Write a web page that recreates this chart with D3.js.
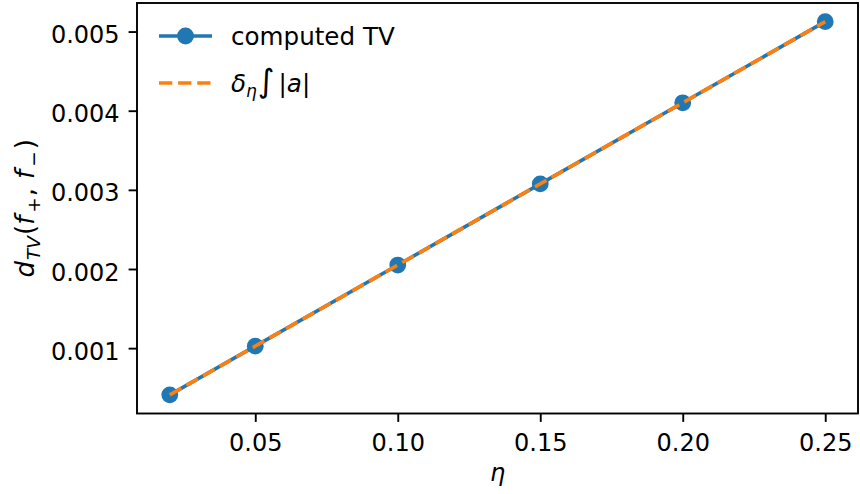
<!DOCTYPE html>
<html>
<head>
<meta charset="utf-8">
<script src="https://cdn.jsdelivr.net/npm/d3@7"></script>
<style>
  html, body { margin: 0; padding: 0; background: #fff; }
  svg { display: block; }
  text { font-family: "DejaVu Sans", sans-serif; fill: #000; }
</style>
</head>
<body>
<svg id="chart" width="860" height="494"></svg>
<script>
const etaValues = [0.02, 0.05, 0.10, 0.15, 0.20, 0.25];
const computedTV = [0.00041, 0.001025, 0.00205, 0.003075, 0.0041, 0.005125];
const boundValues = [0.00041, 0.001025, 0.00205, 0.003075, 0.0041, 0.005125];
const xTicks = [0.05, 0.10, 0.15, 0.20, 0.25];
const yTicks = [0.001, 0.002, 0.003, 0.004, 0.005];

const W = 860, H = 494;
const margin = { left: 137, right: 2, top: 3, bottom: 80.5 };
const svg = d3.select("#chart");

function padded(arr) {
  const [lo, hi] = d3.extent(arr);
  const p = (hi - lo) * 0.05;
  return [lo - p, hi + p];
}

const x = d3.scaleLinear().domain(padded(etaValues)).range([margin.left, W - margin.right]);
const y = d3.scaleLinear().domain(padded(computedTV.concat(boundValues))).range([H - margin.bottom, margin.top]);

const blue = "#1f77b4", orange = "#ff7f0e";
const lw = 3.6, mr = 8.4;

// Lines
const data1 = etaValues.map((e, i) => [e, computedTV[i]]);
const data2 = etaValues.map((e, i) => [e, boundValues[i]]);
const line = d3.line().x(d => x(d[0])).y(d => y(d[1]));

const plot = svg.append("g");
plot.append("path").datum(data1).attr("d", line)
  .attr("fill", "none").attr("stroke", blue).attr("stroke-width", lw);
plot.selectAll("circle.pt").data(data1).enter().append("circle")
  .attr("class", "pt").attr("cx", d => x(d[0])).attr("cy", d => y(d[1]))
  .attr("r", mr).attr("fill", blue);
plot.append("path").datum(data2).attr("d", line)
  .attr("fill", "none").attr("stroke", orange).attr("stroke-width", lw)
  .attr("stroke-dasharray", "13.3,5.8");

// Axes
const xAxis = d3.axisBottom(x).tickValues(xTicks).tickFormat(d3.format(".2f")).tickSize(8.4).tickPadding(9);
const yAxis = d3.axisLeft(y).tickValues(yTicks).tickFormat(d3.format(".3f")).tickSize(8.4).tickPadding(9);

const gx = svg.append("g").attr("transform", `translate(0,${H - margin.bottom})`).call(xAxis);
const gy = svg.append("g").attr("transform", `translate(${margin.left},0)`).call(yAxis);
[gx, gy].forEach(g => {
  g.select(".domain").remove();
  g.selectAll(".tick line").attr("stroke", "#000").attr("stroke-width", 1.9);
  g.selectAll(".tick text").style("font-family", "DejaVu Sans").style("font-size", "24px").attr("fill", "#000");
});
gx.selectAll(".tick text").attr("dy", "0.83em");
gy.selectAll(".tick text").attr("dy", "0.46em");

// Frame
svg.append("rect")
  .attr("x", margin.left).attr("y", margin.top)
  .attr("width", W - margin.right - margin.left)
  .attr("height", H - margin.bottom - margin.top)
  .attr("fill", "none").attr("stroke", "#000").attr("stroke-width", 1.9);

// X label
svg.append("text").attr("x", (margin.left + W - margin.right) / 2).attr("y", 481)
  .attr("text-anchor", "middle").style("font-size", "24px").style("font-style", "italic").text("η");

// Y label
const yl = svg.append("text")
  .attr("transform", `translate(34,${(margin.top + H - margin.bottom) / 2}) rotate(-90)`)
  .attr("text-anchor", "middle").style("font-size", "26px");
yl.append("tspan").style("font-style", "italic").text("d");
yl.append("tspan").style("font-style", "italic").style("font-size", "18.5px").attr("dy", 6).attr("dx", 1).text("TV");
yl.append("tspan").attr("dy", -6).attr("dx", 1).text("(");
yl.append("tspan").style("font-style", "italic").text("f");
yl.append("tspan").style("font-size", "18.5px").attr("dy", 6).attr("dx", 3).text("+");
yl.append("tspan").attr("dy", -6).attr("dx", 1).text(",");
yl.append("tspan").style("font-style", "italic").attr("dx", 9).text("f");
yl.append("tspan").style("font-size", "18.5px").attr("dy", 6).attr("dx", 3).text("\u2212");
yl.append("tspan").attr("dy", -6).attr("dx", 2).text(")");

// Legend
const lg = svg.append("g");
const lx0 = 159, lx1 = 212, ly1 = 36, ly2 = 83;
lg.append("line").attr("x1", lx0).attr("x2", lx1).attr("y1", ly1).attr("y2", ly1)
  .attr("stroke", blue).attr("stroke-width", lw);
lg.append("circle").attr("cx", (lx0 + lx1) / 2).attr("cy", ly1).attr("r", mr).attr("fill", blue);
lg.append("text").attr("x", 231).attr("y", ly1 + 9).style("font-size", "24.6px").text("computed TV");
lg.append("line").attr("x1", lx0).attr("x2", lx1).attr("y1", ly2).attr("y2", ly2)
  .attr("stroke", orange).attr("stroke-width", lw).attr("stroke-dasharray", "13.3,5.8");
const t2 = lg.append("text").attr("x", 231).attr("y", ly2 + 8.5).style("font-size", "24.6px");
t2.append("tspan").style("font-style", "italic").text("δ");
t2.append("tspan").style("font-style", "italic").style("font-size", "17px").attr("dy", 5).text("η");
t2.append("tspan").attr("dy", -5).attr("dx", 1).style("font-size", "32px").text("\u222B");
t2.append("tspan").attr("dx", 4).text("|");
t2.append("tspan").style("font-style", "italic").text("a");
t2.append("tspan").text("|");
</script>
</body>
</html>
